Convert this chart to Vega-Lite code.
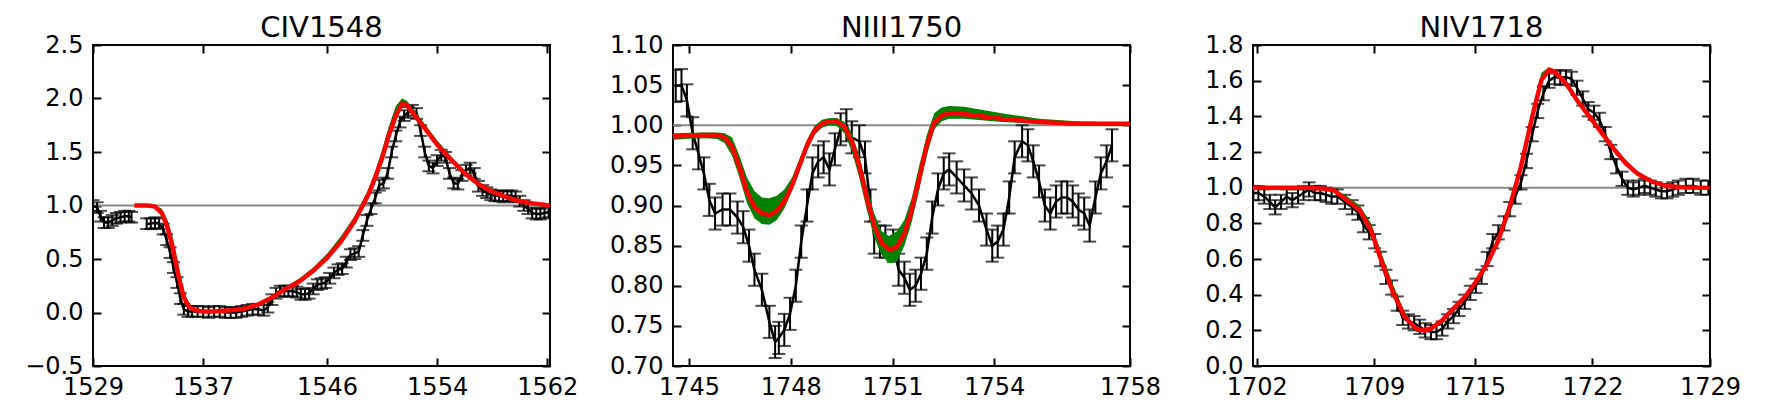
{
  "$schema": "https://vega.github.io/schema/vega-lite/v6.json",
  "padding": {"left": 23, "top": 13, "right": 0, "bottom": 0},
  "background": "white",
  "config": {
    "font": "DejaVu Sans",
    "view": {"stroke": "black", "strokeWidth": 2},
    "axis": {"domain": false, "grid": false, "labelFont": "DejaVu Sans", "labelFontSize": 24, "labelColor": "black", "tickColor": "black", "tickSize": -8, "tickWidth": 2, "labelFlush": false, "labelOverlap": false, "title": null},
    "axisX": {"labelPadding": 17},
    "axisY": {"labelPadding": 18},
    "title": {"font": "DejaVu Sans", "fontSize": 29, "fontWeight": "normal", "color": "black", "baseline": "alphabetic", "offset": -10, "anchor": "middle", "frame": "group"}
  },
  "datasets": {
    "civ_obs": [
      {"x":1529.0,"y":1.0,"e":0.05,"s":1},{"x":1529.3,"y":0.98,"e":0.05,"s":1},{"x":1529.55,"y":0.9,"e":0.05,"s":1},{"x":1529.8,"y":0.84,"e":0.05,"s":1},{"x":1530.1,"y":0.84,"e":0.05,"s":1},{"x":1530.4,"y":0.86,"e":0.05,"s":1},{"x":1530.7,"y":0.88,"e":0.05,"s":1},{"x":1531.0,"y":0.89,"e":0.05,"s":1},{"x":1531.3,"y":0.9,"e":0.05,"s":1},{"x":1531.6,"y":0.9,"e":0.05,"s":1},{"x":1531.8,"y":0.89,"e":0.05,"s":1},
      {"x":1532.9,"y":0.83,"e":0.05,"s":2},{"x":1533.2,"y":0.83,"e":0.05,"s":2},{"x":1533.5,"y":0.84,"e":0.05,"s":2},{"x":1533.8,"y":0.83,"e":0.05,"s":2},{"x":1534.1,"y":0.78,"e":0.05,"s":2},{"x":1534.35,"y":0.68,"e":0.05,"s":2},{"x":1534.6,"y":0.56,"e":0.05,"s":2},{"x":1534.85,"y":0.42,"e":0.05,"s":2},{"x":1535.1,"y":0.28,"e":0.05,"s":2},{"x":1535.35,"y":0.13,"e":0.05,"s":2},{"x":1535.6,"y":0.03,"e":0.05,"s":2},{"x":1535.9,"y":0.01,"e":0.05,"s":2},{"x":1536.2,"y":0.01,"e":0.05,"s":2},{"x":1536.6,"y":0.01,"e":0.05,"s":2},{"x":1537.0,"y":0.01,"e":0.05,"s":2},{"x":1537.4,"y":0.0,"e":0.05,"s":2},{"x":1537.8,"y":0.01,"e":0.05,"s":2},{"x":1538.2,"y":0.01,"e":0.05,"s":2},{"x":1538.6,"y":0.0,"e":0.05,"s":2},{"x":1539.0,"y":0.0,"e":0.05,"s":2},{"x":1539.4,"y":0.0,"e":0.05,"s":2},{"x":1539.8,"y":0.01,"e":0.05,"s":2},{"x":1540.2,"y":0.02,"e":0.05,"s":2},{"x":1540.6,"y":0.03,"e":0.05,"s":2},{"x":1541.0,"y":0.03,"e":0.05,"s":2},{"x":1541.4,"y":0.02,"e":0.05,"s":2},{"x":1541.7,"y":0.05,"e":0.05,"s":2},{"x":1542.0,"y":0.12,"e":0.05,"s":2},{"x":1542.3,"y":0.18,"e":0.05,"s":2},{"x":1542.6,"y":0.2,"e":0.05,"s":2},{"x":1542.9,"y":0.2,"e":0.05,"s":2},{"x":1543.2,"y":0.2,"e":0.05,"s":2},{"x":1543.5,"y":0.2,"e":0.05,"s":2},{"x":1543.8,"y":0.19,"e":0.05,"s":2},{"x":1544.1,"y":0.17,"e":0.05,"s":2},{"x":1544.4,"y":0.17,"e":0.05,"s":2},{"x":1544.7,"y":0.18,"e":0.05,"s":2},{"x":1545.0,"y":0.22,"e":0.05,"s":2},{"x":1545.3,"y":0.26,"e":0.05,"s":2},{"x":1545.6,"y":0.27,"e":0.05,"s":2},{"x":1545.9,"y":0.28,"e":0.05,"s":2},{"x":1546.2,"y":0.32,"e":0.05,"s":2},{"x":1546.5,"y":0.37,"e":0.05,"s":2},{"x":1546.8,"y":0.4,"e":0.05,"s":2},{"x":1547.1,"y":0.41,"e":0.05,"s":2},{"x":1547.4,"y":0.47,"e":0.05,"s":2},{"x":1547.7,"y":0.54,"e":0.05,"s":2},{"x":1548.0,"y":0.55,"e":0.05,"s":2},{"x":1548.3,"y":0.57,"e":0.05,"s":2},{"x":1548.6,"y":0.72,"e":0.05,"s":2},{"x":1548.9,"y":0.86,"e":0.05,"s":2},{"x":1549.2,"y":0.97,"e":0.05,"s":2},{"x":1549.5,"y":1.07,"e":0.05,"s":2},{"x":1549.8,"y":1.19,"e":0.05,"s":2},{"x":1550.1,"y":1.21,"e":0.05,"s":2},{"x":1550.4,"y":1.3,"e":0.05,"s":2},{"x":1550.7,"y":1.5,"e":0.05,"s":2},{"x":1551.0,"y":1.65,"e":0.05,"s":2},{"x":1551.3,"y":1.78,"e":0.05,"s":2},{"x":1551.6,"y":1.84,"e":0.05,"s":2},{"x":1551.9,"y":1.87,"e":0.05,"s":2},{"x":1552.2,"y":1.89,"e":0.05,"s":2},{"x":1552.5,"y":1.86,"e":0.05,"s":2},{"x":1552.8,"y":1.7,"e":0.05,"s":2},{"x":1553.1,"y":1.5,"e":0.05,"s":2},{"x":1553.4,"y":1.37,"e":0.05,"s":2},{"x":1553.7,"y":1.35,"e":0.05,"s":2},{"x":1554.0,"y":1.42,"e":0.05,"s":2},{"x":1554.3,"y":1.47,"e":0.05,"s":2},{"x":1554.6,"y":1.45,"e":0.05,"s":2},{"x":1554.9,"y":1.3,"e":0.05,"s":2},{"x":1555.2,"y":1.21,"e":0.05,"s":2},{"x":1555.5,"y":1.2,"e":0.05,"s":2},{"x":1555.8,"y":1.28,"e":0.05,"s":2},{"x":1556.1,"y":1.33,"e":0.05,"s":2},{"x":1556.4,"y":1.35,"e":0.05,"s":2},{"x":1556.7,"y":1.3,"e":0.05,"s":2},{"x":1557.0,"y":1.18,"e":0.05,"s":2},{"x":1557.3,"y":1.14,"e":0.05,"s":2},{"x":1557.6,"y":1.12,"e":0.05,"s":2},{"x":1557.9,"y":1.1,"e":0.05,"s":2},{"x":1558.2,"y":1.09,"e":0.05,"s":2},{"x":1558.5,"y":1.09,"e":0.05,"s":2},{"x":1558.8,"y":1.08,"e":0.05,"s":2},{"x":1559.1,"y":1.09,"e":0.05,"s":2},{"x":1559.4,"y":1.09,"e":0.05,"s":2},{"x":1559.7,"y":1.08,"e":0.05,"s":2},{"x":1560.0,"y":1.04,"e":0.05,"s":2},{"x":1560.3,"y":1.0,"e":0.05,"s":2},{"x":1560.6,"y":0.97,"e":0.05,"s":2},{"x":1560.9,"y":0.93,"e":0.05,"s":2},{"x":1561.2,"y":0.92,"e":0.05,"s":2},{"x":1561.5,"y":0.92,"e":0.05,"s":2},{"x":1561.8,"y":0.93,"e":0.05,"s":2},{"x":1562.1,"y":0.94,"e":0.05,"s":2}
    ],
    "civ_fit": [
      {"x":1532.0,"f":1.0,"lo":1.0,"hi":1.0},{"x":1533.0,"f":1.0,"lo":0.995,"hi":1.0},{"x":1533.5,"f":0.99,"lo":0.98,"hi":1.0},{"x":1534.0,"f":0.93,"lo":0.93,"hi":0.97},{"x":1534.4,"f":0.8,"lo":0.8,"hi":0.87},{"x":1534.8,"f":0.6,"lo":0.6,"hi":0.7},{"x":1535.2,"f":0.35,"lo":0.35,"hi":0.45},{"x":1535.6,"f":0.14,"lo":0.14,"hi":0.2},{"x":1536.0,"f":0.05,"lo":0.05,"hi":0.08},{"x":1536.5,"f":0.02,"lo":0.02,"hi":0.03},{"x":1537.0,"f":0.01,"lo":0.01,"hi":0.015},{"x":1538.0,"f":0.012,"lo":0.01,"hi":0.015},{"x":1539.0,"f":0.02,"lo":0.015,"hi":0.022},{"x":1540.0,"f":0.035,"lo":0.03,"hi":0.04},{"x":1541.0,"f":0.075,"lo":0.065,"hi":0.085},{"x":1542.0,"f":0.14,"lo":0.12,"hi":0.16},{"x":1543.0,"f":0.22,"lo":0.2,"hi":0.24},{"x":1544.0,"f":0.29,"lo":0.28,"hi":0.32},{"x":1545.0,"f":0.39,"lo":0.38,"hi":0.42},{"x":1546.0,"f":0.51,"lo":0.5,"hi":0.55},{"x":1547.0,"f":0.66,"lo":0.65,"hi":0.71},{"x":1548.0,"f":0.855,"lo":0.85,"hi":0.9},{"x":1549.0,"f":1.1,"lo":1.09,"hi":1.15},{"x":1549.5,"f":1.26,"lo":1.25,"hi":1.32},{"x":1550.0,"f":1.44,"lo":1.44,"hi":1.52},{"x":1550.5,"f":1.66,"lo":1.66,"hi":1.74},{"x":1551.0,"f":1.84,"lo":1.84,"hi":1.93},{"x":1551.45,"f":1.95,"lo":1.95,"hi":2.0},{"x":1551.8,"f":1.94,"lo":1.92,"hi":1.98},{"x":1552.2,"f":1.87,"lo":1.86,"hi":1.91},{"x":1553.0,"f":1.74,"lo":1.74,"hi":1.78},{"x":1554.0,"f":1.57,"lo":1.57,"hi":1.61},{"x":1555.0,"f":1.43,"lo":1.43,"hi":1.46},{"x":1556.0,"f":1.3,"lo":1.3,"hi":1.33},{"x":1557.0,"f":1.2,"lo":1.2,"hi":1.22},{"x":1558.0,"f":1.13,"lo":1.13,"hi":1.15},{"x":1559.0,"f":1.08,"lo":1.08,"hi":1.09},{"x":1560.0,"f":1.04,"lo":1.04,"hi":1.05},{"x":1561.0,"f":1.02,"lo":1.02,"hi":1.025},{"x":1562.2,"f":1.0,"lo":1.0,"hi":1.005}
    ],
    "niii_obs": [
      {"x":1744.61,"y":1.049,"e":0.02},{"x":1744.78,"y":1.05,"e":0.02},{"x":1744.94,"y":1.031,"e":0.02},{"x":1745.11,"y":0.99,"e":0.02},{"x":1745.28,"y":0.965,"e":0.02},{"x":1745.44,"y":0.94,"e":0.02},{"x":1745.6,"y":0.907,"e":0.02},{"x":1745.77,"y":0.89,"e":0.02},{"x":1745.99,"y":0.895,"e":0.02},{"x":1746.21,"y":0.895,"e":0.02},{"x":1746.43,"y":0.885,"e":0.02},{"x":1746.6,"y":0.873,"e":0.02},{"x":1746.77,"y":0.85,"e":0.02},{"x":1746.93,"y":0.82,"e":0.02},{"x":1747.15,"y":0.795,"e":0.02},{"x":1747.37,"y":0.755,"e":0.02},{"x":1747.54,"y":0.73,"e":0.02},{"x":1747.65,"y":0.735,"e":0.02},{"x":1747.81,"y":0.745,"e":0.02},{"x":1747.98,"y":0.765,"e":0.02},{"x":1748.15,"y":0.8,"e":0.02},{"x":1748.31,"y":0.855,"e":0.02},{"x":1748.48,"y":0.9,"e":0.02},{"x":1748.64,"y":0.94,"e":0.02},{"x":1748.81,"y":0.955,"e":0.02},{"x":1748.97,"y":0.96,"e":0.02},{"x":1749.14,"y":0.945,"e":0.02},{"x":1749.3,"y":0.97,"e":0.02},{"x":1749.47,"y":0.995,"e":0.02},{"x":1749.64,"y":1.0,"e":0.02},{"x":1749.8,"y":0.985,"e":0.02},{"x":1750.02,"y":0.98,"e":0.02},{"x":1750.19,"y":0.96,"e":0.02},{"x":1750.35,"y":0.9,"e":0.02},{"x":1750.46,"y":0.86,"e":0.02},{"x":1750.63,"y":0.855,"e":0.02},{"x":1750.79,"y":0.855,"e":0.02},{"x":1751.02,"y":0.85,"e":0.02},{"x":1751.18,"y":0.82,"e":0.02},{"x":1751.35,"y":0.81,"e":0.02},{"x":1751.51,"y":0.795,"e":0.02},{"x":1751.68,"y":0.8,"e":0.02},{"x":1751.84,"y":0.815,"e":0.02},{"x":1752.01,"y":0.84,"e":0.02},{"x":1752.17,"y":0.885,"e":0.02},{"x":1752.34,"y":0.92,"e":0.02},{"x":1752.51,"y":0.94,"e":0.02},{"x":1752.67,"y":0.945,"e":0.02},{"x":1752.89,"y":0.935,"e":0.02},{"x":1753.11,"y":0.925,"e":0.02},{"x":1753.33,"y":0.915,"e":0.02},{"x":1753.55,"y":0.9,"e":0.02},{"x":1753.77,"y":0.87,"e":0.02},{"x":1753.94,"y":0.85,"e":0.02},{"x":1754.1,"y":0.855,"e":0.02},{"x":1754.27,"y":0.87,"e":0.02},{"x":1754.44,"y":0.91,"e":0.02},{"x":1754.6,"y":0.96,"e":0.02},{"x":1754.82,"y":0.98,"e":0.02},{"x":1754.99,"y":0.975,"e":0.02},{"x":1755.15,"y":0.955,"e":0.02},{"x":1755.32,"y":0.93,"e":0.02},{"x":1755.49,"y":0.9,"e":0.02},{"x":1755.65,"y":0.89,"e":0.02},{"x":1755.82,"y":0.905,"e":0.02},{"x":1755.98,"y":0.91,"e":0.02},{"x":1756.15,"y":0.91,"e":0.02},{"x":1756.31,"y":0.905,"e":0.02},{"x":1756.48,"y":0.895,"e":0.02},{"x":1756.65,"y":0.89,"e":0.02},{"x":1756.81,"y":0.875,"e":0.02},{"x":1756.98,"y":0.91,"e":0.02},{"x":1757.14,"y":0.94,"e":0.02},{"x":1757.31,"y":0.955,"e":0.02},{"x":1757.47,"y":0.975,"e":0.02}
    ],
    "niii_fit": [
      {"x":1744.53,"f":0.986,"lo":0.982,"hi":0.99},{"x":1745.39,"f":0.988,"lo":0.984,"hi":0.991},{"x":1745.83,"f":0.988,"lo":0.983,"hi":0.991},{"x":1746.05,"f":0.985,"lo":0.978,"hi":0.99},{"x":1746.27,"f":0.973,"lo":0.962,"hi":0.985},{"x":1746.49,"f":0.948,"lo":0.935,"hi":0.962},{"x":1746.71,"f":0.917,"lo":0.903,"hi":0.935},{"x":1746.93,"f":0.898,"lo":0.884,"hi":0.918},{"x":1747.15,"f":0.89,"lo":0.877,"hi":0.91},{"x":1747.37,"f":0.888,"lo":0.876,"hi":0.909},{"x":1747.59,"f":0.893,"lo":0.882,"hi":0.912},{"x":1747.81,"f":0.905,"lo":0.896,"hi":0.92},{"x":1748.04,"f":0.925,"lo":0.918,"hi":0.935},{"x":1748.26,"f":0.95,"lo":0.943,"hi":0.958},{"x":1748.48,"f":0.975,"lo":0.968,"hi":0.982},{"x":1748.7,"f":0.993,"lo":0.988,"hi":0.999},{"x":1748.92,"f":1.002,"lo":0.997,"hi":1.007},{"x":1749.14,"f":1.005,"lo":1.0,"hi":1.009},{"x":1749.36,"f":1.005,"lo":0.999,"hi":1.009},{"x":1749.58,"f":0.998,"lo":0.99,"hi":1.004},{"x":1749.8,"f":0.98,"lo":0.968,"hi":0.99},{"x":1750.02,"f":0.95,"lo":0.935,"hi":0.962},{"x":1750.24,"f":0.91,"lo":0.895,"hi":0.925},{"x":1750.46,"f":0.875,"lo":0.86,"hi":0.89},{"x":1750.68,"f":0.853,"lo":0.838,"hi":0.868},{"x":1750.9,"f":0.845,"lo":0.828,"hi":0.862},{"x":1751.13,"f":0.848,"lo":0.83,"hi":0.868},{"x":1751.35,"f":0.865,"lo":0.85,"hi":0.882},{"x":1751.57,"f":0.895,"lo":0.88,"hi":0.91},{"x":1751.79,"f":0.935,"lo":0.92,"hi":0.95},{"x":1752.01,"f":0.975,"lo":0.962,"hi":0.988},{"x":1752.23,"f":1.003,"lo":0.995,"hi":1.015},{"x":1752.45,"f":1.012,"lo":1.005,"hi":1.022},{"x":1752.67,"f":1.015,"lo":1.008,"hi":1.024},{"x":1753.11,"f":1.014,"lo":1.008,"hi":1.023},{"x":1754.22,"f":1.008,"lo":1.004,"hi":1.015},{"x":1755.32,"f":1.004,"lo":1.002,"hi":1.008},{"x":1756.42,"f":1.002,"lo":1.001,"hi":1.005},{"x":1758.0,"f":1.002,"lo":1.001,"hi":1.003}
    ],
    "niv_obs": [
      {"x":1701.8,"y":0.97,"e":0.04},{"x":1702.1,"y":0.97,"e":0.04},{"x":1702.45,"y":0.95,"e":0.04},{"x":1702.78,"y":0.92,"e":0.04},{"x":1703.1,"y":0.89,"e":0.04},{"x":1703.45,"y":0.92,"e":0.04},{"x":1703.79,"y":0.95,"e":0.04},{"x":1704.12,"y":0.93,"e":0.04},{"x":1704.46,"y":0.95,"e":0.04},{"x":1704.79,"y":0.97,"e":0.04},{"x":1705.12,"y":0.99,"e":0.04},{"x":1705.46,"y":0.97,"e":0.04},{"x":1705.79,"y":0.97,"e":0.04},{"x":1706.13,"y":0.96,"e":0.04},{"x":1706.46,"y":0.95,"e":0.04},{"x":1706.8,"y":0.95,"e":0.04},{"x":1707.25,"y":0.92,"e":0.04},{"x":1707.69,"y":0.89,"e":0.04},{"x":1708.03,"y":0.86,"e":0.04},{"x":1708.36,"y":0.79,"e":0.04},{"x":1708.7,"y":0.75,"e":0.04},{"x":1709.03,"y":0.7,"e":0.04},{"x":1709.37,"y":0.6,"e":0.04},{"x":1709.7,"y":0.5,"e":0.04},{"x":1710.04,"y":0.44,"e":0.04},{"x":1710.37,"y":0.35,"e":0.04},{"x":1710.7,"y":0.27,"e":0.04},{"x":1711.04,"y":0.25,"e":0.04},{"x":1711.38,"y":0.24,"e":0.04},{"x":1711.71,"y":0.22,"e":0.04},{"x":1712.04,"y":0.2,"e":0.04},{"x":1712.38,"y":0.19,"e":0.04},{"x":1712.71,"y":0.19,"e":0.04},{"x":1713.05,"y":0.21,"e":0.04},{"x":1713.38,"y":0.25,"e":0.04},{"x":1713.72,"y":0.28,"e":0.04},{"x":1714.05,"y":0.32,"e":0.04},{"x":1714.39,"y":0.36,"e":0.04},{"x":1714.72,"y":0.41,"e":0.04},{"x":1715.06,"y":0.45,"e":0.04},{"x":1715.39,"y":0.5,"e":0.04},{"x":1715.73,"y":0.6,"e":0.04},{"x":1716.06,"y":0.7,"e":0.04},{"x":1716.4,"y":0.75,"e":0.04},{"x":1716.73,"y":0.8,"e":0.04},{"x":1717.07,"y":0.88,"e":0.04},{"x":1717.4,"y":0.95,"e":0.04},{"x":1717.74,"y":1.03,"e":0.04},{"x":1718.07,"y":1.15,"e":0.04},{"x":1718.41,"y":1.3,"e":0.04},{"x":1718.74,"y":1.43,"e":0.04},{"x":1719.08,"y":1.53,"e":0.04},{"x":1719.41,"y":1.6,"e":0.04},{"x":1719.75,"y":1.62,"e":0.04},{"x":1720.08,"y":1.615,"e":0.04},{"x":1720.42,"y":1.62,"e":0.04},{"x":1720.75,"y":1.61,"e":0.04},{"x":1721.08,"y":1.56,"e":0.04},{"x":1721.42,"y":1.5,"e":0.04},{"x":1721.75,"y":1.44,"e":0.04},{"x":1722.09,"y":1.42,"e":0.04},{"x":1722.42,"y":1.38,"e":0.04},{"x":1722.76,"y":1.3,"e":0.04},{"x":1723.09,"y":1.2,"e":0.04},{"x":1723.43,"y":1.12,"e":0.04},{"x":1723.76,"y":1.05,"e":0.04},{"x":1724.1,"y":1.0,"e":0.04},{"x":1724.43,"y":0.99,"e":0.04},{"x":1724.77,"y":1.0,"e":0.04},{"x":1725.1,"y":1.01,"e":0.04},{"x":1725.44,"y":1.0,"e":0.04},{"x":1725.77,"y":0.99,"e":0.04},{"x":1726.11,"y":0.98,"e":0.04},{"x":1726.44,"y":0.98,"e":0.04},{"x":1726.78,"y":0.99,"e":0.04},{"x":1727.11,"y":1.0,"e":0.04},{"x":1727.56,"y":1.01,"e":0.04},{"x":1728.0,"y":1.01,"e":0.04},{"x":1728.45,"y":1.0,"e":0.04},{"x":1728.9,"y":1.0,"e":0.04}
    ],
    "niv_fit": [
      {"x":1701.78,"f":1.0,"lo":1.0,"hi":1.0},{"x":1705.0,"f":1.0,"lo":0.998,"hi":1.0},{"x":1705.9,"f":0.995,"lo":0.993,"hi":0.998},{"x":1706.58,"f":0.986,"lo":0.984,"hi":0.992},{"x":1707.25,"f":0.939,"lo":0.939,"hi":0.96},{"x":1708.14,"f":0.874,"lo":0.874,"hi":0.9},{"x":1708.81,"f":0.762,"lo":0.762,"hi":0.8},{"x":1709.48,"f":0.575,"lo":0.575,"hi":0.62},{"x":1710.15,"f":0.406,"lo":0.4,"hi":0.45},{"x":1710.82,"f":0.275,"lo":0.265,"hi":0.3},{"x":1711.49,"f":0.21,"lo":0.19,"hi":0.215},{"x":1711.93,"f":0.2,"lo":0.19,"hi":0.2},{"x":1712.38,"f":0.21,"lo":0.205,"hi":0.215},{"x":1713.05,"f":0.256,"lo":0.25,"hi":0.262},{"x":1713.72,"f":0.322,"lo":0.316,"hi":0.328},{"x":1714.39,"f":0.387,"lo":0.38,"hi":0.395},{"x":1715.06,"f":0.472,"lo":0.465,"hi":0.48},{"x":1715.73,"f":0.574,"lo":0.565,"hi":0.585},{"x":1716.4,"f":0.705,"lo":0.695,"hi":0.718},{"x":1717.07,"f":0.893,"lo":0.88,"hi":0.905},{"x":1717.74,"f":1.117,"lo":1.1,"hi":1.135},{"x":1718.41,"f":1.398,"lo":1.38,"hi":1.43},{"x":1718.96,"f":1.604,"lo":1.59,"hi":1.645},{"x":1719.41,"f":1.66,"lo":1.65,"hi":1.675},{"x":1719.75,"f":1.65,"lo":1.64,"hi":1.662},{"x":1720.42,"f":1.585,"lo":1.575,"hi":1.6},{"x":1721.08,"f":1.49,"lo":1.48,"hi":1.505},{"x":1721.98,"f":1.379,"lo":1.37,"hi":1.395},{"x":1722.65,"f":1.295,"lo":1.29,"hi":1.315},{"x":1723.32,"f":1.211,"lo":1.205,"hi":1.23},{"x":1723.99,"f":1.136,"lo":1.13,"hi":1.155},{"x":1724.66,"f":1.08,"lo":1.075,"hi":1.095},{"x":1725.55,"f":1.033,"lo":1.03,"hi":1.042},{"x":1726.44,"f":1.009,"lo":1.007,"hi":1.014},{"x":1727.56,"f":1.001,"lo":1.0,"hi":1.003},{"x":1728.96,"f":0.999,"lo":0.999,"hi":1.0}
    ]
  },
  "hconcat": [
    {
      "width": 457, "height": 321,
      "title": "CIV1548",
      "resolve": {"axis": {"x": "independent", "y": "independent"}},
      "layer": [
        {"data": {"values": [{"ref": 1}]}, "mark": {"type": "rule", "color": "#888888", "strokeWidth": 2},
         "encoding": {"y": {"field": "ref", "type": "quantitative", "scale": {"domain": [-0.5, 2.5], "nice": false, "zero": false}, "axis": null}}},
        {"data": {"name": "civ_obs"}, "mark": {"type": "line", "color": "black", "strokeWidth": 2.5, "clip": true},
         "encoding": {
           "x": {"field": "x", "type": "quantitative", "scale": {"domain": [1529, 1562.2], "nice": false, "zero": false}, "axis": {"orient": "bottom", "values": [1529, 1537, 1546, 1554, 1562], "format": "d"}},
           "y": {"field": "y", "type": "quantitative", "scale": {"domain": [-0.5, 2.5], "nice": false, "zero": false}, "axis": {"orient": "left", "values": [-0.5, 0, 0.5, 1, 1.5, 2, 2.5], "format": ".1f"}},
           "detail": {"field": "s", "type": "nominal"}}},
        {"data": {"name": "civ_obs"}, "mark": {"type": "errorbar", "color": "black", "thickness": 2, "ticks": {"size": 13, "thickness": 2, "color": "black"}, "clip": true},
         "encoding": {
           "x": {"field": "x", "type": "quantitative", "scale": {"domain": [1529, 1562.2], "nice": false, "zero": false}, "axis": null},
           "y": {"field": "y", "type": "quantitative", "scale": {"domain": [-0.5, 2.5], "nice": false, "zero": false}, "axis": null},
           "yError": {"field": "e"}}},
        {"data": {"name": "civ_fit"}, "mark": {"type": "area", "color": "green", "opacity": 1, "clip": true},
         "encoding": {
           "x": {"field": "x", "type": "quantitative", "scale": {"domain": [1529, 1562.2], "nice": false, "zero": false}, "axis": null},
           "y": {"field": "lo", "type": "quantitative", "scale": {"domain": [-0.5, 2.5], "nice": false, "zero": false}, "axis": null},
           "y2": {"field": "hi"}}},
        {"data": {"name": "civ_fit"}, "mark": {"type": "line", "color": "red", "strokeWidth": 4.5, "clip": true},
         "encoding": {
           "x": {"field": "x", "type": "quantitative", "scale": {"domain": [1529, 1562.2], "nice": false, "zero": false}, "axis": {"orient": "top", "values": [1529, 1537, 1546, 1554, 1562], "labels": false}},
           "y": {"field": "f", "type": "quantitative", "scale": {"domain": [-0.5, 2.5], "nice": false, "zero": false}, "axis": {"orient": "right", "values": [-0.5, 0, 0.5, 1, 1.5, 2, 2.5], "labels": false}}}}
      ]
    },
    {
      "width": 457, "height": 321,
      "title": "NIII1750",
      "resolve": {"axis": {"x": "independent", "y": "independent"}},
      "layer": [
        {"data": {"values": [{"ref": 1}]}, "mark": {"type": "rule", "color": "#888888", "strokeWidth": 2},
         "encoding": {"y": {"field": "ref", "type": "quantitative", "scale": {"domain": [0.7, 1.1], "nice": false, "zero": false}, "axis": null}}},
        {"data": {"name": "niii_obs"}, "mark": {"type": "line", "color": "black", "strokeWidth": 2.5, "clip": true},
         "encoding": {
           "x": {"field": "x", "type": "quantitative", "scale": {"domain": [1744.53, 1758], "nice": false, "zero": false}, "axis": {"orient": "bottom", "values": [1745, 1748, 1751, 1754, 1758], "format": "d"}},
           "y": {"field": "y", "type": "quantitative", "scale": {"domain": [0.7, 1.1], "nice": false, "zero": false}, "axis": {"orient": "left", "values": [0.7, 0.75, 0.8, 0.85, 0.9, 0.95, 1.0, 1.05, 1.1], "format": ".2f"}}}},
        {"data": {"name": "niii_obs"}, "mark": {"type": "errorbar", "color": "black", "thickness": 2, "ticks": {"size": 13, "thickness": 2, "color": "black"}, "clip": true},
         "encoding": {
           "x": {"field": "x", "type": "quantitative", "scale": {"domain": [1744.53, 1758], "nice": false, "zero": false}, "axis": null},
           "y": {"field": "y", "type": "quantitative", "scale": {"domain": [0.7, 1.1], "nice": false, "zero": false}, "axis": null},
           "yError": {"field": "e"}}},
        {"data": {"name": "niii_fit"}, "mark": {"type": "area", "color": "green", "opacity": 1, "clip": true},
         "encoding": {
           "x": {"field": "x", "type": "quantitative", "scale": {"domain": [1744.53, 1758], "nice": false, "zero": false}, "axis": null},
           "y": {"field": "lo", "type": "quantitative", "scale": {"domain": [0.7, 1.1], "nice": false, "zero": false}, "axis": null},
           "y2": {"field": "hi"}}},
        {"data": {"name": "niii_fit"}, "mark": {"type": "line", "color": "red", "strokeWidth": 4.5, "clip": true},
         "encoding": {
           "x": {"field": "x", "type": "quantitative", "scale": {"domain": [1744.53, 1758], "nice": false, "zero": false}, "axis": {"orient": "top", "values": [1745, 1748, 1751, 1754, 1758], "labels": false}},
           "y": {"field": "f", "type": "quantitative", "scale": {"domain": [0.7, 1.1], "nice": false, "zero": false}, "axis": {"orient": "right", "values": [0.7, 0.75, 0.8, 0.85, 0.9, 0.95, 1.0, 1.05, 1.1], "labels": false}}}}
      ]
    },
    {
      "width": 457, "height": 321,
      "title": "NIV1718",
      "resolve": {"axis": {"x": "independent", "y": "independent"}},
      "layer": [
        {"data": {"values": [{"ref": 1}]}, "mark": {"type": "rule", "color": "#888888", "strokeWidth": 2},
         "encoding": {"y": {"field": "ref", "type": "quantitative", "scale": {"domain": [0, 1.8], "nice": false, "zero": false}, "axis": null}}},
        {"data": {"name": "niv_obs"}, "mark": {"type": "line", "color": "black", "strokeWidth": 2.5, "clip": true},
         "encoding": {
           "x": {"field": "x", "type": "quantitative", "scale": {"domain": [1701.78, 1729], "nice": false, "zero": false}, "axis": {"orient": "bottom", "values": [1702, 1709, 1715, 1722, 1729], "format": "d"}},
           "y": {"field": "y", "type": "quantitative", "scale": {"domain": [0, 1.8], "nice": false, "zero": false}, "axis": {"orient": "left", "values": [0, 0.2, 0.4, 0.6, 0.8, 1.0, 1.2, 1.4, 1.6, 1.8], "format": ".1f"}}}},
        {"data": {"name": "niv_obs"}, "mark": {"type": "errorbar", "color": "black", "thickness": 2, "ticks": {"size": 13, "thickness": 2, "color": "black"}, "clip": true},
         "encoding": {
           "x": {"field": "x", "type": "quantitative", "scale": {"domain": [1701.78, 1729], "nice": false, "zero": false}, "axis": null},
           "y": {"field": "y", "type": "quantitative", "scale": {"domain": [0, 1.8], "nice": false, "zero": false}, "axis": null},
           "yError": {"field": "e"}}},
        {"data": {"name": "niv_fit"}, "mark": {"type": "area", "color": "green", "opacity": 1, "clip": true},
         "encoding": {
           "x": {"field": "x", "type": "quantitative", "scale": {"domain": [1701.78, 1729], "nice": false, "zero": false}, "axis": null},
           "y": {"field": "lo", "type": "quantitative", "scale": {"domain": [0, 1.8], "nice": false, "zero": false}, "axis": null},
           "y2": {"field": "hi"}}},
        {"data": {"name": "niv_fit"}, "mark": {"type": "line", "color": "red", "strokeWidth": 4.5, "clip": true},
         "encoding": {
           "x": {"field": "x", "type": "quantitative", "scale": {"domain": [1701.78, 1729], "nice": false, "zero": false}, "axis": {"orient": "top", "values": [1702, 1709, 1715, 1722, 1729], "labels": false}},
           "y": {"field": "f", "type": "quantitative", "scale": {"domain": [0, 1.8], "nice": false, "zero": false}, "axis": {"orient": "right", "values": [0, 0.2, 0.4, 0.6, 0.8, 1.0, 1.2, 1.4, 1.6, 1.8], "labels": false}}}}
      ]
    }
  ],
  "spacing": 123,
  "bounds": "flush"
}
